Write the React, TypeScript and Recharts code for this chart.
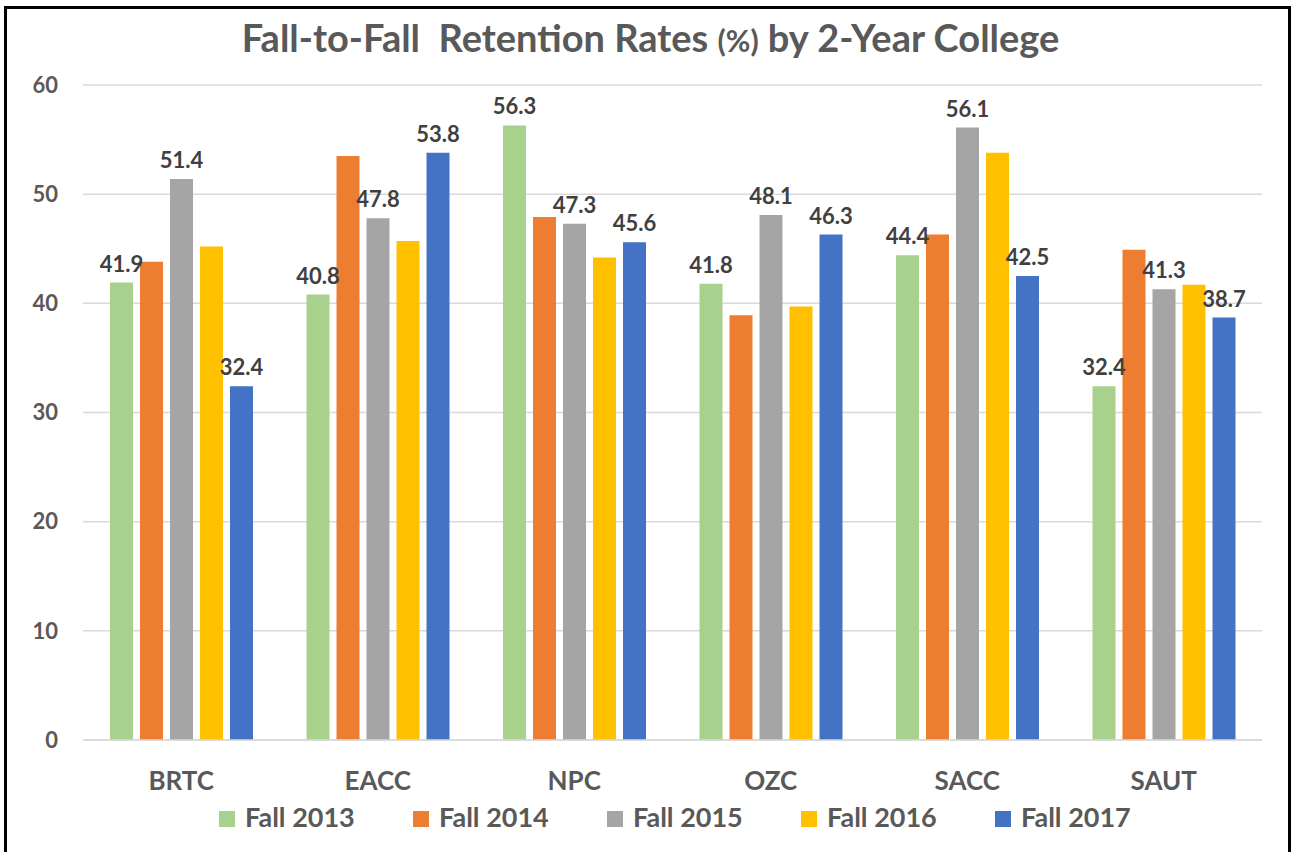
import React from "react";
import { BarChart, Bar, XAxis, YAxis, CartesianGrid, LabelList } from "recharts";

const colleges = ["BRTC", "EACC", "NPC", "OZC", "SACC", "SAUT"];
const fall2013 = [41.9, 40.8, 56.3, 41.8, 44.4, 32.4];
const fall2014 = [43.8, 53.5, 47.9, 38.9, 46.3, 44.9];
const fall2015 = [51.4, 47.8, 47.3, 48.1, 56.1, 41.3];
const fall2016 = [45.2, 45.7, 44.2, 39.7, 53.8, 41.7];
const fall2017 = [32.4, 53.8, 45.6, 46.3, 42.5, 38.7];
const yTicks = [0, 10, 20, 30, 40, 50, 60];

const series = [
  { key: "f2013", name: "Fall 2013", color: "#A9D18E", values: fall2013, label: true },
  { key: "f2014", name: "Fall 2014", color: "#ED7D31", values: fall2014, label: false },
  { key: "f2015", name: "Fall 2015", color: "#A5A5A5", values: fall2015, label: true },
  { key: "f2016", name: "Fall 2016", color: "#FFC000", values: fall2016, label: false },
  { key: "f2017", name: "Fall 2017", color: "#4472C4", values: fall2017, label: true },
];

const data = colleges.map((c, i) => {
  const row: Record<string, any> = { college: c };
  series.forEach((s) => (row[s.key] = s.values[i]));
  return row;
});

const FONT = "Lato, 'Open Sans', sans-serif";

export default function App() {
  return (
    <div style={{ position: "absolute", left: 0, top: 0, width: 1291, height: 852, background: "#fff", fontFamily: FONT, overflow: "hidden" }}>
      <div style={{ position: "absolute", left: 4, top: 6, width: 1287, height: 870, border: "3px solid #000", boxSizing: "border-box" }} />
      <div style={{ position: "absolute", left: 5, top: 18, width: 1291, textAlign: "center", fontSize: 38, lineHeight: "38px", fontWeight: 700, color: "#595959", whiteSpace: "nowrap" }}>
        Fall-to-Fall&nbsp; Retention Rates <span style={{ fontSize: 30 }}>(%)</span> by 2-Year College
      </div>
      <div style={{ position: "absolute", left: 0, top: 0 }}>
        <BarChart
          width={1291}
          height={852}
          data={data}
          margin={{ top: 85, right: 29, bottom: 52, left: 0 }}
          barGap={7}
          barSize={23}
        >
          <CartesianGrid vertical={false} stroke="#D9D9D9" strokeWidth={1.5} />
          <XAxis
            dataKey="college"
            axisLine={{ stroke: "#D9D9D9", strokeWidth: 1.5 }}
            tickLine={false}
            tickSize={0}
            tickMargin={32}
            height={60}
            tick={{ fill: "#595959", fontSize: 26, fontWeight: 700, fontFamily: FONT }}
          />
          <YAxis
            domain={[0, 60]}
            ticks={yTicks}
            width={83}
            axisLine={false}
            tickLine={false}
            tickSize={0}
            tickMargin={25}
            tick={{ fill: "#595959", fontSize: 22, fontWeight: 700, fontFamily: FONT }}
          />
          {series.map((s) => (
            <Bar key={s.key} dataKey={s.key} name={s.name} fill={s.color} isAnimationActive={false}>
              {s.label && (
                <LabelList
                  dataKey={s.key}
                  position="top"
                  offset={11}
                  style={{ fill: "#404040", fontSize: 22, fontWeight: 700, fontFamily: FONT }}
                />
              )}
            </Bar>
          ))}
        </BarChart>
      </div>
      <div style={{ position: "absolute", left: 219, top: 803, display: "flex" }}>
        {series.map((s) => (
          <div key={s.key} style={{ display: "flex", alignItems: "flex-start", width: 194 }}>
            <div style={{ width: 16, height: 16, background: s.color, marginRight: 10, marginTop: 8 }} />
            <span style={{ fontSize: 27, lineHeight: "27px", fontWeight: 700, color: "#595959", whiteSpace: "nowrap" }}>{s.name}</span>
          </div>
        ))}
      </div>
    </div>
  );
}
